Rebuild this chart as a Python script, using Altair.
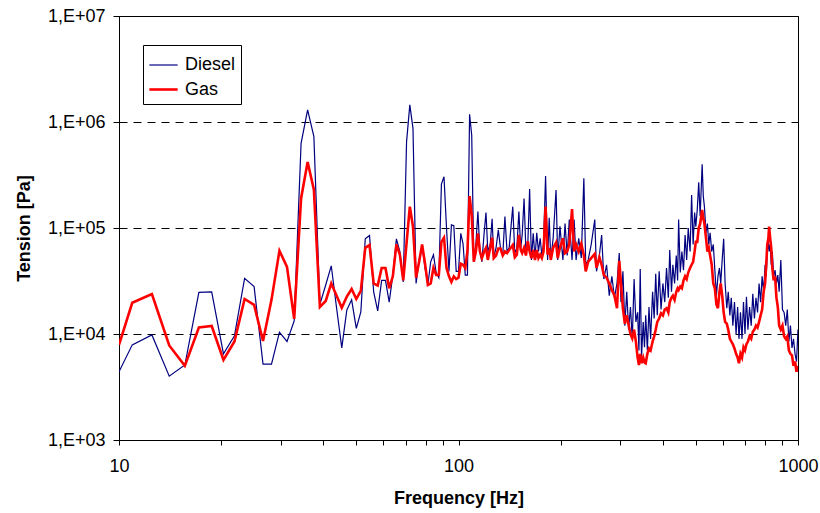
import altair as alt
import pandas as pd

# ---- data ----
freq_low = [10, 10.94, 12.5, 14.06, 15.63, 17.19, 18.75, 20.31, 21.88, 23.44,
            25.0, 26.56, 28.13, 29.69, 31.25, 32.81, 34.38, 35.94, 37.5, 39.06,
            40.63, 42.19, 43.75, 45.31, 46.88, 48.44, 50.0, 51.56, 53.13, 54.69,
            56.25, 57.81, 59.38, 60.94, 62.5, 64.06, 65.63, 67.19, 68.75, 70.31,
            71.88, 73.44, 75.0, 76.56, 78.13, 79.69, 81.25, 82.81, 84.38, 85.94,
            87.5, 89.06, 90.63, 92.19, 93.75, 95.31, 96.88, 98.44, 100.0, 101.56,
            103.13, 104.69, 106.25, 107.81, 109.38, 110.94, 112.5, 114.06, 115.63, 117.19]
diesel_low = [4.4e3, 7.9e3, 9.8e3, 4.0e3, 5.1e3, 2.47e4, 2.5e4, 6.5e3, 9.6e3, 3.35e4,
              2.8e4, 5.2e3, 5.2e3, 1.04e4, 8.5e3, 1.33e4, 6.3e5, 1.3e6, 7.3e5, 1.9e4,
              2.9e4, 4.4e4, 1.75e4, 7.4e3, 1.68e4, 2.1e4, 1.13e4, 1.62e4, 7.9e4, 8.5e4,
              2.5e4, 1.65e4, 3.2e4, 3.2e4, 2.0e4, 3.6e4, 7.9e4, 6.0e4, 3.1e4, 6.5e5,
              1.45e6, 8.7e5, 3.0e4, 5.0e4, 6.8e4, 4.2e4, 2.9e4, 4.8e4, 5.6e4, 3.8e4,
              3.4e4, 2.6e5, 3.05e5, 1.0e5, 3.9e4, 1.07e5, 1.05e5, 3.9e4, 3.9e4, 8.9e4,
              7.1e4, 3.6e4, 3.6e4, 1.18e6, 7.5e5, 4.8e4, 7.0e4, 1.43e5, 6.0e4, 4.8e4]
gas_low = [7.9e3, 1.97e4, 2.38e4, 7.8e3, 5.0e3, 1.15e4, 1.19e4, 5.7e3, 8.5e3, 2.14e4,
           1.88e4, 8.6e3, 2.1e4, 6.1e4, 4.3e4, 1.39e4, 1.9e5, 4.2e5, 2.3e5, 1.8e4,
           2.05e4, 3.0e4, 2.3e4, 1.77e4, 2.25e4, 2.66e4, 2.14e4, 2.55e4, 6.5e4, 6.9e4,
           3.0e4, 2.86e4, 4.2e4, 4.2e4, 2.7e4, 3.5e4, 7.0e4, 5.6e4, 3.2e4, 7.2e4,
           1.59e5, 1.03e5, 3.4e4, 4.8e4, 7.0e4, 4.6e4, 2.9e4, 3.0e4, 4.2e4, 3.6e4,
           3.6e4, 7.4e4, 8.1e4, 4.2e4, 3.5e4, 3.1e4, 3.5e4, 3.3e4, 3.4e4, 4.6e4,
           4.5e4, 4.2e4, 6.0e4, 2.0e5, 1.33e5, 4.8e4, 6.0e4, 8.9e4, 6.0e4, 5.2e4]

freq_high = [119, 120.5, 122, 124, 125.6, 127, 129, 131, 133, 135,
             137, 139, 141, 144.5, 146.5, 148.5, 150.6, 152.5, 154, 156,
             158, 160, 162, 164, 166, 168, 170, 172, 174, 176,
             178, 180.5, 183, 185, 187, 190, 193.8, 196, 199, 203,
             206, 209, 212, 216, 219, 222, 226, 230, 234, 237,
             241, 246, 252, 255, 260, 264, 268, 273, 278, 283,
             288, 293, 297.5, 301, 305, 309, 313, 317, 321, 325,
             329, 333, 337, 340, 343, 346, 350, 353, 356, 360,
             364, 368, 373, 377, 381, 385, 390, 395, 400, 405,
             410, 415, 419, 424, 428, 433, 438, 442, 445, 450,
             455, 460, 465, 470, 475, 481, 486, 491, 496, 500,
             505, 510, 515, 522, 526, 530, 536, 541, 546, 551,
             557, 563, 569, 575, 581, 587, 592, 598, 604, 610,
             617, 623, 630, 636, 643, 650, 657, 664, 670, 677,
             684, 691, 698, 705, 712, 720, 728, 736, 744, 752,
             760, 768, 776, 784, 792, 800, 806, 812, 818, 822,
             828, 834, 840, 848, 856, 864, 872, 880, 890, 900,
             910, 920, 930, 940, 950, 960, 970, 980, 990, 1000]
diesel_high = [9e4, 1.4e5, 6e4, 7e4, 1.22e5, 5.3e4, 6.5e4, 9.6e4, 6.4e4, 5.5e4,
               1.28e5, 6e4, 6.5e4, 1.59e5, 5.8e4, 6.4e4, 1.43e5, 6.4e4, 8.6e4, 1.9e5,
               6e4, 7e4, 2.33e5, 5e4, 8.9e4, 5.2e4, 9e4, 6e4, 8e4, 5.5e4,
               7e4, 3.1e5, 5e4, 1.25e5, 5e4, 8e4, 2.28e5, 5e4, 1.04e5, 5e4,
               1.1e5, 5.5e4, 1.2e5, 5e4, 1.2e5, 5e4, 8e4, 5.2e4, 2.94e5, 4.5e4,
               5e4, 7e4, 1.2e5, 3.9e4, 5.5e4, 8.6e4, 3.3e4, 4.5e4, 2.3e4, 3.5e4,
               2.2e4, 3e4, 5.8e4, 2.0e4, 3.9e4, 1.2e4, 2.5e4, 1.1e4, 1.8e4, 8.9e3,
               3.3e4, 1.3e4, 1.6e4, 7e3, 4.1e4, 6e3, 1.3e4, 7.5e3, 1.5e4, 7e3,
               1.8e4, 9e3, 2.5e4, 1.4e4, 3.7e4, 1.5e4, 3.9e4, 1.7e4, 3e4, 2e4,
               4.2e4, 2.2e4, 6.2e4, 2.5e4, 4.5e4, 3e4, 5.5e4, 3.2e4, 1.2e5, 3.8e4,
               6e4, 4e4, 8.6e4, 5e4, 1.0e5, 6e4, 2.05e5, 7e4, 1.4e5, 1.03e5,
               1.5e5, 2.7e5, 1.3e5, 4.0e5, 2.0e5, 1.6e5, 9e4, 1.1e5, 7e4, 9e4,
               6e4, 7e4, 4e4, 2.3e4, 3.5e4, 4.2e4, 3e4, 5e4, 7.9e4, 3e4,
               1.75e4, 2.5e4, 1.5e4, 2.2e4, 1.2e4, 2e4, 1e4, 1.8e4, 9e3, 1.6e4,
               9e3, 2e4, 1e4, 2.25e4, 1.1e4, 1.8e4, 1.2e4, 2.4e4, 1.4e4, 2.2e4,
               1.6e4, 3e4, 2e4, 3.5e4, 2.5e4, 4.5e4, 3.5e4, 6e4, 7.4e4, 6e4,
               7e4, 4.5e4, 6e4, 3.5e4, 4e4, 3e4, 3.6e4, 2.5e4, 5e4, 1.7e4,
               1.6e4, 1.2e4, 1.7e4, 8.5e3, 1.2e4, 7.4e3, 9e3, 6.5e3, 5.5e3, 1.1e4]
gas_high = [6e4, 6.5e4, 5e4, 6.5e4, 8.1e4, 5.2e4, 5.5e4, 6.4e4, 6.4e4, 5.5e4,
            6e4, 5.8e4, 6.2e4, 6.9e4, 5.3e4, 5.6e4, 8.6e4, 6.2e4, 5.8e4, 6.5e4,
            5.5e4, 7.5e4, 6e4, 5.2e4, 6.2e4, 5e4, 6.2e4, 5.2e4, 5.6e4, 5.2e4,
            6e4, 1.59e5, 5.6e4, 6.5e4, 5e4, 6.5e4, 7.3e4, 5.2e4, 6.5e4, 8e4,
            5.8e4, 6e4, 7e4, 1.51e5, 6e4, 7e4, 6e4, 7.1e4, 5.5e4, 3.9e4,
            4.8e4, 5.2e4, 5.7e4, 4.2e4, 5.3e4, 4.5e4, 3.6e4, 3.4e4, 3.0e4, 2.6e4,
            2.3e4, 1.75e4, 4.9e4, 3e4, 1.75e4, 1.25e4, 1.5e4, 1.22e4, 1.0e4, 9.1e3,
            1.1e4, 8.5e3, 6e3, 5.1e3, 6.5e3, 5.3e3, 6e3, 5.4e3, 5.3e3, 6.5e3,
            7.3e3, 7e3, 8.5e3, 9.5e3, 1.1e4, 1.3e4, 1.4e4, 1.57e4, 1.5e4, 1.7e4,
            1.75e4, 1.6e4, 2e4, 2.2e4, 2.3e4, 2.1e4, 2.5e4, 2.7e4, 2.6e4, 2.8e4,
            2.7e4, 3.2e4, 3.5e4, 3.3e4, 3.8e4, 4.2e4, 4.5e4, 4.8e4, 6e4, 7.4e4,
            7.4e4, 1.0e5, 1.1e5, 1.48e5, 1.24e5, 1.1e5, 8e4, 6e4, 6.5e4, 5.5e4,
            4.5e4, 3e4, 2.7e4, 1.9e4, 1.75e4, 2.5e4, 3e4, 2.3e4, 1.6e4, 1.3e4,
            1.25e4, 1.1e4, 9e3, 8.5e3, 8e3, 7.3e3, 6.5e3, 6e3, 5.3e3, 6.5e3,
            6e3, 7.5e3, 7e3, 8e3, 8.5e3, 9.5e3, 9e3, 1.05e4, 1.1e4, 1.2e4,
            1.15e4, 1.3e4, 1.5e4, 1.7e4, 2.5e4, 3e4, 4.5e4, 7e4, 8e4, 1.03e5,
            8e4, 6.5e4, 4.2e4, 3.2e4, 3.5e4, 2.2e4, 1.8e4, 1.2e4, 1.1e4, 1.2e4,
            9.5e3, 9e3, 9.5e3, 7e3, 6.5e3, 6.3e3, 5e3, 5.5e3, 4.4e3, 5e3]

series_names = ["Diesel", "Gas"]
series_colors = ["#000080", "#FF0000"]
series_widths = [1.2, 2.6]

y_ticks = [1e3, 1e4, 1e5, 1e6, 1e7]
x_ticks = [10, 20, 30, 40, 50, 60, 70, 80, 90, 100,
           200, 300, 400, 500, 600, 700, 800, 900, 1000]
x_labelled = [10, 100, 1000]

freq = freq_low + freq_high
diesel = diesel_low + diesel_high
gas = gas_low + gas_high

df = pd.DataFrame({
    "Frequency": freq + freq,
    "Tension": diesel + gas,
    "Series": [series_names[0]] * len(freq) + [series_names[1]] * len(freq),
})

FONT = "Liberation Sans"

legend = alt.Legend(
    title=None, orient="none", legendX=24, legendY=29,
    fillColor="white", strokeColor="black", padding=5,
    symbolType="stroke", symbolSize=800, labelFontSize=18,
    labelFont=FONT, labelColor="black", labelOffset=6, rowPadding=0,
    labelLimit=200,
)

chart = alt.Chart(df).mark_line(clip=True).encode(
    x=alt.X("Frequency:Q",
            scale=alt.Scale(type="log", domain=[10, 1000], nice=False),
            axis=alt.Axis(values=x_ticks, grid=False, labelFlush=False,
                          labelOverlap=False,
                          labelExpr="indexof(" + str(x_labelled) + ", datum.value) >= 0 ? format(datum.value, 'd') : ''",
                          title="Frequency [Hz]", tickSize=5, labelPadding=12,
                          titlePadding=14)),
    y=alt.Y("Tension:Q",
            scale=alt.Scale(type="log", domain=[1e3, 1e7], nice=False),
            axis=alt.Axis(values=y_ticks, grid=True, labelFlush=False,
                          labelOverlap=False,
                          labelExpr="'1,E+0' + format(log(datum.value) / LN10, '.0f')",
                          title="Tension [Pa]", tickSize=6, labelPadding=8,
                          titlePadding=14)),
    color=alt.Color("Series:N",
                    scale=alt.Scale(domain=series_names, range=series_colors),
                    legend=legend),
    strokeWidth=alt.StrokeWidth("Series:N",
                                scale=alt.Scale(domain=series_names, range=series_widths),
                                legend=legend),
).properties(
    width=679, height=424,
    autosize=alt.AutoSizeParams(type="none"),
    padding={"left": 119, "top": 16, "right": 22, "bottom": 73},
).configure_view(
    stroke="black", strokeWidth=1
).configure_axis(
    labelFont=FONT, labelFontSize=18, labelColor="black",
    titleFont=FONT, titleFontSize=18, titleFontWeight="bold", titleColor="black",
    domainColor="black", tickColor="black", domainWidth=1,
    gridColor="black", gridDash=[8, 6], gridWidth=1, gridOpacity=1,
)

chart.save("out.html", embed_options={"renderer": "svg", "actions": False})
